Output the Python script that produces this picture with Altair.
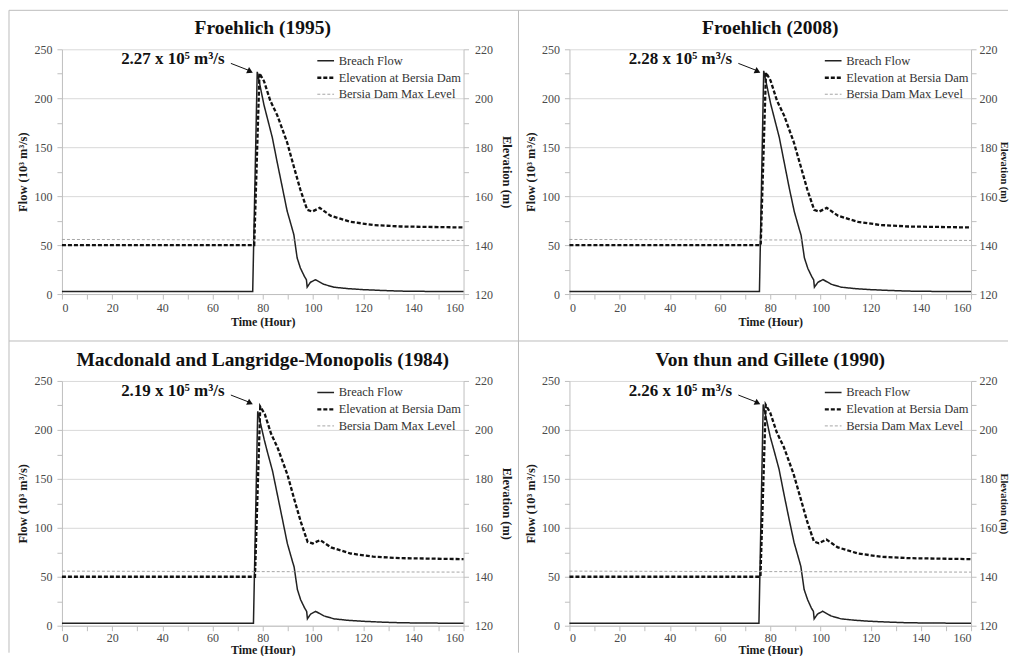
import altair as alt
import pandas as pd

FONT = "Liberation Serif"
SERIES = ["Breach Flow", "Elevation at Bersia Dam", "Bersia Dam Max Level"]

panel_titles = [
    "Froehlich (1995)",
    "Froehlich (2008)",
    "Macdonald and Langridge-Monopolis (1984)",
    "Von thun and Gillete (1990)",
]
peak_labels = ["2.27 x 10⁵ m³/s", "2.28 x 10⁵ m³/s", "2.19 x 10⁵ m³/s", "2.26 x 10⁵ m³/s"]

# Breach flow (10^3 m3/s) vs time (hour)
flow_hours_1 = [0, 76.0, 77.8, 80.5, 81.8, 83.8, 85.8, 87.8, 89.7, 91.7, 92.4, 93.7, 95.0, 96.6, 97.4, 97.7, 99.0, 101.0, 104.3, 108.3, 114.0, 120.0, 128.0, 135.0, 145.0, 160.0]
flow_vals_1 = [2.5, 2.5, 227, 193, 180, 160, 134, 109, 85, 67, 60.5, 37, 26.5, 18, 14.6, 7, 12, 14.6, 10, 7, 5.5, 4.5, 3.6, 3.0, 2.7, 2.5]
flow_hours_2 = [0, 75.7, 77.4, 80.2, 81.6, 83.6, 85.6, 87.6, 89.6, 91.6, 92.3, 93.6, 95.0, 96.5, 97.3, 97.6, 99.0, 101.0, 104.3, 108.3, 114.0, 120.0, 128.0, 135.0, 145.0, 160.0]
flow_vals_2 = [2.5, 2.5, 228, 194, 180, 160, 134, 108, 84, 66, 60, 37, 26, 18, 14.5, 7, 12, 14.8, 10, 7, 5.5, 4.5, 3.6, 3.0, 2.7, 2.5]
flow_hours_3 = [0, 76.3, 78.0, 80.6, 81.9, 83.9, 85.9, 87.9, 89.8, 91.8, 92.5, 93.8, 95.1, 96.7, 97.5, 97.8, 99.1, 101.1, 104.4, 108.4, 114.0, 120.0, 128.0, 135.0, 145.0, 160.0]
flow_vals_3 = [2.5, 2.5, 219, 190, 177, 158, 133, 108, 84, 66, 60, 37, 26.5, 18, 14.6, 7, 12, 14.6, 10, 7, 5.5, 4.5, 3.6, 3.0, 2.7, 2.5]
flow_hours_4 = [0, 75.5, 77.2, 80.0, 81.4, 83.5, 85.5, 87.5, 89.5, 91.5, 92.2, 93.5, 94.9, 96.4, 97.2, 97.5, 98.9, 100.9, 104.2, 108.2, 114.0, 120.0, 128.0, 135.0, 145.0, 160.0]
flow_vals_4 = [2.5, 2.5, 226, 193, 180, 160, 134, 109, 85, 67, 60.5, 37, 26.5, 18, 14.6, 7, 12, 14.8, 10, 7, 5.5, 4.5, 3.6, 3.0, 2.7, 2.5]

# Elevation at Bersia Dam (m)
elev_hours_1 = [0, 76.6, 78.7, 80.5, 83.0, 85.8, 89.7, 92.4, 95.0, 97.7, 99.7, 102.7, 107.0, 115.0, 124.0, 135.0, 160.0]
elev_vals_1 = [140, 140, 210.2, 207, 199, 193, 182, 172, 162.6, 154.4, 153.7, 155.2, 152, 149.5, 148.2, 147.6, 147.2]
elev_hours_2 = [0, 76.2, 78.3, 80.1, 82.7, 85.5, 89.4, 92.2, 94.8, 97.5, 99.5, 102.5, 107.0, 115.0, 124.0, 135.0, 160.0]
elev_vals_2 = [140, 140, 210.5, 207.3, 199, 193, 182, 172, 162.6, 154.4, 153.7, 155.2, 152, 149.5, 148.2, 147.6, 147.2]
elev_hours_3 = [0, 76.9, 79.0, 80.8, 83.3, 86.0, 89.9, 92.6, 95.2, 97.9, 99.9, 102.9, 107.2, 115.0, 124.0, 135.0, 160.0]
elev_vals_3 = [140, 140, 209.5, 206.5, 198.5, 192.5, 181.5, 171.5, 162.3, 154.2, 153.6, 155.0, 152, 149.5, 148.2, 147.6, 147.2]
elev_hours_4 = [0, 76.1, 78.2, 80.0, 82.6, 85.4, 89.3, 92.1, 94.7, 97.4, 99.4, 102.4, 106.9, 115.0, 124.0, 135.0, 160.0]
elev_vals_4 = [140, 140, 210.2, 207, 199, 193, 182, 172, 162.6, 154.4, 153.7, 155.2, 152, 149.5, 148.2, 147.6, 147.2]

max_level_hours = [0, 160]
max_level_vals = [142.3, 141.9]

# annotation anchors (hour, flow)
label_at = [44.2, 240]
arrow_from = [67.3, 235.6]
arrow_to = [74.3, 228.6]
head_at = [75.0, 227.4]

W, H = 402, 245
COL_GAP, ROW_GAP = 106, 87

legend = alt.Legend(
    title=None, orient="none", legendX=254, legendY=2, symbolType="stroke",
    symbolSize=280, labelFont=FONT, labelFontSize=12.5, labelColor="#333",
    rowPadding=0.5, labelOffset=3, padding=0,
)
color_enc = alt.Color("series:N", scale=alt.Scale(domain=SERIES, range=["#222222", "#111111", "#a6a6a6"]), legend=legend)
dash_enc = alt.StrokeDash("series:N", scale=alt.Scale(domain=SERIES, range=[[1, 0], [4, 2], [3, 2]]), legend=legend)
width_enc = alt.StrokeWidth("series:N", scale=alt.Scale(type="ordinal", domain=SERIES, range=[1.5, 2.3, 1]), legend=legend)


def x_axis(top_row):
    return alt.Axis(
        values=list(range(0, 161, 10)), labelExpr="datum.value % 20 == 0 ? datum.label : ''",
        title="Time (Hour)", grid=False,
        labelPadding=3 if top_row else 2, titlePadding=3 if top_row else 1,
    )


left_axis = alt.Axis(
    values=list(range(0, 251, 25)), labelExpr="datum.value % 50 == 0 ? datum.label : ''",
    title="Flow (10³ m³/s)", grid=True,
    gridOpacity={"condition": {"test": "datum.value % 50 == 0", "value": 1}, "value": 0},
    labelPadding=5, titlePadding=4, titleFontSize=12.5,
)


def right_axis(outer):
    if outer:
        return alt.Axis(
            values=list(range(120, 221, 10)), labelExpr="datum.value % 20 == 0 ? datum.label : ''",
            title="Elevation (m)", grid=False, orient="right", labelPadding=3, titlePadding=1,
            titleFontSize=10.5,
        )
    return alt.Axis(
        values=list(range(120, 221, 10)), labelExpr="datum.value % 20 == 0 ? datum.label : ''",
        title="Elevation (m)", grid=False, orient="right", labelPadding=6, titlePadding=7,
        titleFontSize=12.5,
    )


def panel(title, fh, fv, eh, ev, label, outer=False, top_row=True, frame=False):
    fdf = pd.DataFrame({"hour": fh, "flow": fv, "series": SERIES[0]})
    edf = pd.concat([
        pd.DataFrame({"hour": eh, "elev": ev, "series": SERIES[1]}),
        pd.DataFrame({"hour": max_level_hours, "elev": max_level_vals, "series": SERIES[2]}),
    ])
    x = alt.X("hour:Q", scale=alt.Scale(domain=[0, 160], nice=False), axis=x_axis(top_row))
    yf = alt.Y("flow:Q", scale=alt.Scale(domain=[0, 250], nice=False), axis=left_axis)
    flow_line = alt.Chart(fdf).mark_line().encode(x=x, y=yf, color=color_enc, strokeDash=dash_enc, strokeWidth=width_enc)
    ann = pd.DataFrame({"hour": [label_at[0]], "flow": [label_at[1]], "text": [label]})
    text = alt.Chart(ann).mark_text(font=FONT, fontSize=17, fontWeight="bold", color="#111").encode(x=x, y=yf, text="text:N")
    arr = pd.DataFrame({"hour": [arrow_from[0]], "flow": [arrow_from[1]], "hour2": [arrow_to[0]], "flow2": [arrow_to[1]]})
    arrow = alt.Chart(arr).mark_rule(color="#111", strokeWidth=1).encode(x=x, y=yf, x2="hour2:Q", y2="flow2:Q")
    hd = pd.DataFrame({"hour": [head_at[0]], "flow": [head_at[1]]})
    head = alt.Chart(hd).mark_point(shape="triangle-up", angle=116, size=45, filled=True, color="#111", opacity=1).encode(x=x, y=yf)
    left = alt.layer(flow_line, text, arrow, head)
    ye = alt.Y("elev:Q", scale=alt.Scale(domain=[120, 220], nice=False), axis=right_axis(outer))
    elev_line = alt.Chart(edf).mark_line().encode(x=x, y=ye, color=color_enc, strokeDash=dash_enc, strokeWidth=width_enc)
    base = alt.Chart(alt.Data(values=[{}]))
    head_title = base.mark_text(font=FONT, fontSize=19.5, fontWeight="bold", color="#111", baseline="middle").encode(
        x=alt.value(W / 2), y=alt.value(-21), text=alt.value(title)
    )
    layers = [left, elev_line, head_title]
    if frame:
        fc = "#bdbdbd"
        right_end = W + COL_GAP + W + 37
        layers += [
            base.mark_rule(color=fc, strokeWidth=1).encode(x=alt.value(-53), x2=alt.value(right_end), y=alt.value(-39)),
            base.mark_rule(color=fc, strokeWidth=1).encode(x=alt.value(-53), y=alt.value(-39), y2=alt.value(604)),
            base.mark_rule(color=fc, strokeWidth=1).encode(x=alt.value(457), y=alt.value(-39), y2=alt.value(604)),
            base.mark_rule(color=fc, strokeWidth=1).encode(x=alt.value(-53), x2=alt.value(right_end), y=alt.value(292)),
        ]
    return alt.layer(*layers).resolve_scale(y="independent").properties(width=W, height=H)


p1 = panel(panel_titles[0], flow_hours_1, flow_vals_1, elev_hours_1, elev_vals_1, peak_labels[0], frame=True)
p2 = panel(panel_titles[1], flow_hours_2, flow_vals_2, elev_hours_2, elev_vals_2, peak_labels[1], outer=True)
p3 = panel(panel_titles[2], flow_hours_3, flow_vals_3, elev_hours_3, elev_vals_3, peak_labels[2], top_row=False)
p4 = panel(panel_titles[3], flow_hours_4, flow_vals_4, elev_hours_4, elev_vals_4, peak_labels[3], outer=True, top_row=False)

IND = dict(color="independent", strokeDash="independent", strokeWidth="independent")

chart = (
    alt.concat(p1, p2, p3, p4, columns=2, spacing={"row": ROW_GAP, "column": COL_GAP}, bounds="flush")
    .resolve_scale(**IND).resolve_legend(**IND)
    .properties(padding={"left": 0, "top": 1, "right": 0, "bottom": 0}, background="white")
    .configure_view(stroke=None)
    .configure_axis(
        labelFont=FONT, labelFontSize=12, labelColor="#4a4a4a",
        titleFont=FONT, titleFontSize=12, titleFontWeight="bold", titleColor="#1a1a1a",
        domainColor="#bfbfbf", tickColor="#bfbfbf", gridColor="#d9d9d9", tickSize=5,
    )
)

chart.save("out.html", embed_options={"renderer": "svg", "actions": False})
